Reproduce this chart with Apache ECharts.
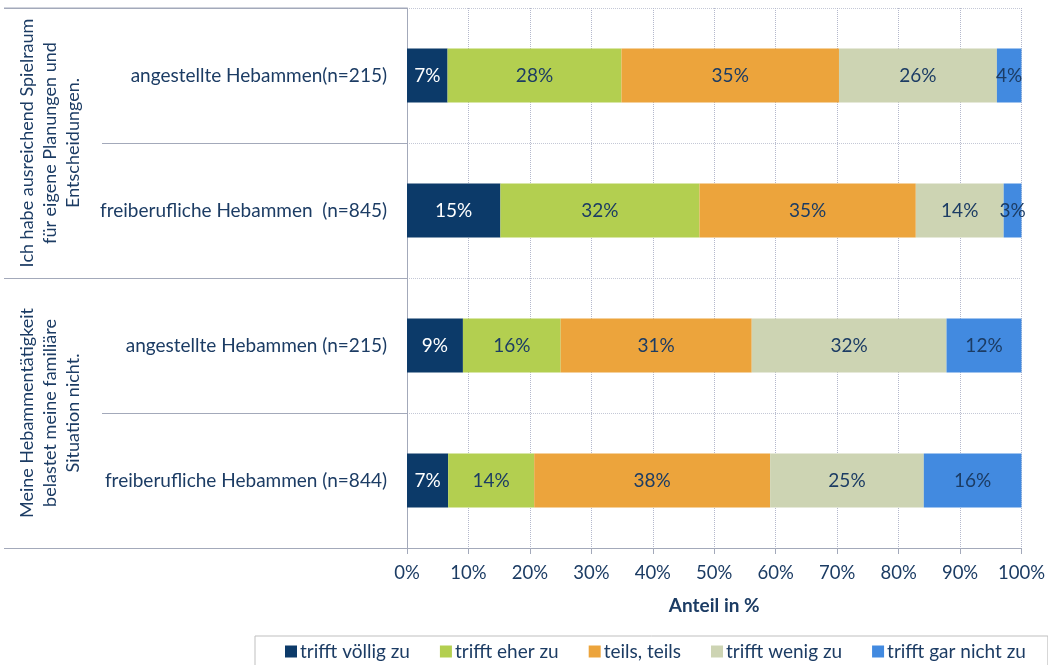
<!DOCTYPE html>
<html>
<head>
<meta charset="utf-8">
<script src="https://cdn.jsdelivr.net/npm/echarts@6/dist/echarts.min.js"></script>
<style>
  html, body { margin: 0; padding: 0; background: #fff; }
  #chart { width: 1048px; height: 665px; }
</style>
</head>
<body>
<div id="chart"></div>
<script>
// Kategorien (von oben nach unten)
const categories = [
  'angestellte Hebammen(n=215)',
  'freiberufliche Hebammen  (n=845)',
  'angestellte Hebammen (n=215)',
  'freiberufliche Hebammen (n=844)'
];
const groups = [
  'Ich habe ausreichend Spielraum\nfür eigene Planungen und\nEntscheidungen.',
  'Meine Hebammentätigkeit\nbelastet meine familiäre\nSituation nicht.'
];
const seriesNames = ['trifft völlig zu', 'trifft eher zu', 'teils, teils', 'trifft wenig zu', 'trifft gar nicht zu'];
// Anteile in % je Antwort, Reihenfolge wie categories
const voellig = [6.6, 15.2, 9.1, 6.7];
const eher = [28.3, 32.4, 15.9, 14.0];
const teils = [35.4, 35.2, 31.1, 38.4];
const wenig = [25.7, 14.3, 31.7, 25.0];
const garNicht = [4.0, 2.9, 12.2, 15.9];
const xTicks = [0, 10, 20, 30, 40, 50, 60, 70, 80, 90, 100];

const colors = ['#0c3a69', '#b3cf50', '#eca43c', '#cdd4b3', '#428ae0'];
const navy = '#1c3c64';
const lineCol = '#a3a9ba';
const font = 'Lato, "Open Sans", sans-serif';

let myChart = echarts.init(document.getElementById('chart'));

const values = [voellig, eher, teils, wenig, garNicht];
let series = values.map((arr, i) => ({
  name: seriesNames[i],
  type: 'bar',
  stack: 'total',
  data: arr,
  barWidth: 54,
  itemStyle: { color: colors[i] },
  label: {
    show: true,
    position: 'inside',
    formatter: p => Math.round(p.value) + '%',
    color: i === 0 ? '#ffffff' : navy,
    fontSize: 19,
    fontFamily: font
  }
}));

let option = {
  animation: false,
  grid: { left: 407, right: 26, top: 8, bottom: 117 },
  xAxis: {
    type: 'value',
    min: 0,
    max: 100,
    interval: 10,
    name: 'Anteil in %',
    nameLocation: 'middle',
    nameGap: 48,
    nameTextStyle: { color: navy, fontSize: 19, fontWeight: 'bold', fontFamily: font },
    axisLine: { show: true, lineStyle: { color: lineCol } },
    axisTick: { show: true, length: 6, lineStyle: { color: lineCol } },
    axisLabel: {
      color: navy, fontSize: 18.5, fontFamily: font, margin: 16,
      formatter: v => xTicks.includes(v) ? v + '%' : ''
    },
    splitLine: { show: true, lineStyle: { color: '#b4b8cc', type: 'dotted' } }
  },
  yAxis: [
    {
      type: 'category',
      inverse: true,
      data: categories,
      axisLine: { show: true, lineStyle: { color: lineCol } },
      axisTick: { show: true, length: 305, lineStyle: { color: lineCol } },
      axisLabel: { color: navy, fontSize: 19, fontFamily: font, margin: 20 },
      splitLine: { show: true, lineStyle: { color: '#c4c8d6', type: 'dotted' } }
    },
    {
      type: 'category',
      position: 'left',
      inverse: true,
      data: groups,
      axisLine: { show: false },
      axisTick: { show: true, length: 403, lineStyle: { color: lineCol } },
      axisLabel: { show: false }
    }
  ],
  legend: {
    data: seriesNames,
    left: 255,
    top: 636,
    padding: [6, 22, 6, 30],
    itemGap: 30,
    itemWidth: 12,
    itemHeight: 12,
    icon: 'rect',
    borderColor: '#bfbfbf',
    borderWidth: 1,
    textStyle: { color: navy, fontSize: 19, fontFamily: font, padding: [0, 0, 0, -2] }
  },
  graphic: [
    // obere Begrenzungslinie der Beschriftungsspalte
    { type: 'line', shape: { x1: 4, y1: 8, x2: 407, y2: 8 }, style: { stroke: lineCol, lineWidth: 1 } }
  ].concat(groups.map((g, i) => ({
    type: 'text',
    x: 50,
    y: 143 + i * 270,
    rotation: Math.PI / 2,
    style: {
      text: g,
      fill: navy,
      font: '18px ' + font,
      lineHeight: 23,
      align: 'center',
      verticalAlign: 'middle'
    }
  }))),
  series: series
};
myChart.setOption(option);
</script>
</body>
</html>
